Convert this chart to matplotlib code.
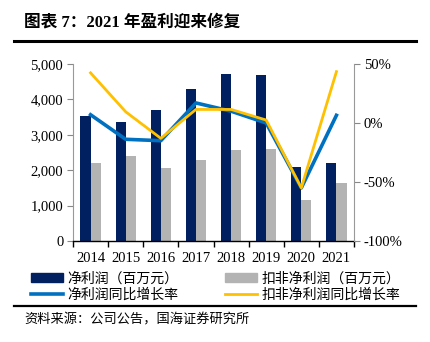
import matplotlib
matplotlib.use("Agg")
import matplotlib.pyplot as plt
from matplotlib.ticker import FuncFormatter, FixedLocator
from matplotlib.lines import Line2D
from matplotlib.patches import Rectangle
import numpy as np

plt.rcParams['font.family'] = ['Liberation Serif', 'Noto Sans CJK SC', 'DejaVu Sans']

years = ['2014', '2015', '2016', '2017', '2018', '2019', '2020', '2021']
net_profit = [3520, 3350, 3700, 4290, 4720, 4700, 2080, 2200]
net_profit_ex = [2190, 2390, 2070, 2300, 2560, 2610, 1160, 1650]
net_growth = [7.0, -13.8, -15.0, 17.0, 10.0, 0.0, -55.0, 6.5]
net_ex_growth = [42.5, 9.5, -13.0, 11.5, 11.5, 2.5, -55.0, 43.5]

labels = ['净利润（百万元）', '扣非净利润（百万元）', '净利润同比增长率', '扣非净利润同比增长率']
title = '图表 7：2021 年盈利迎来修复'
source = '资料来源：公司公告，国海证券研究所'

c_dark = '#002060'
c_gray = '#B3B3B3'
c_blue = '#0070C0'
c_gold = '#FFC000'

W, H = 430, 342
fig = plt.figure(figsize=(W / 100, H / 100), dpi=100)

ax = fig.add_axes([73 / W, 1 - 241 / H, (354 - 73) / W, (241 - 64) / H])
x = np.arange(len(years))
bw = 0.29
ax.bar(x - bw / 2, net_profit, bw, color=c_dark, zorder=2)
ax.bar(x + bw / 2, net_profit_ex, bw, color=c_gray, zorder=2)
ax.set_xlim(-0.5, len(years) - 0.5)
ax.set_ylim(0, 5000)
ax.set_yticks(range(0, 5001, 1000))
ax.yaxis.set_major_formatter(FuncFormatter(lambda v, p: f'{int(v):,}'))
ax.set_xticks(x)
ax.set_xticklabels(years)
ax.xaxis.set_minor_locator(FixedLocator(np.arange(-0.5, len(years), 1.0)))
ax.tick_params(axis='x', which='major', length=0, pad=8, labelsize=10.5)
ax.tick_params(axis='x', which='minor', length=4, width=1, color='black', direction='out')
ax.tick_params(axis='y', length=4, color='#888888', labelsize=10.5, pad=3)
for s in ['top', 'right']:
    ax.spines[s].set_visible(False)
ax.spines['left'].set_color('#999999')
ax.spines['bottom'].set_color('black')
ax.spines['bottom'].set_linewidth(1.0)

ax2 = ax.twinx()
ax2.plot(x, net_growth, color=c_blue, lw=2.6, zorder=3)
ax2.plot(x, net_ex_growth, color=c_gold, lw=2.0, zorder=4)
ax2.set_ylim(-100, 50)
ax2.set_yticks([-100, -50, 0, 50])
ax2.yaxis.set_major_formatter(FuncFormatter(lambda v, p: f'{int(v)}%'))
ax2.tick_params(axis='y', length=4, color='#888888', labelsize=10.5, pad=3)
for s in ['top', 'left', 'bottom']:
    ax2.spines[s].set_visible(False)
ax2.spines['right'].set_color('#999999')

# Title with rule underneath
fig.text(24 / W, 1 - 22 / H, title, fontsize=12, fontweight='bold',
         va='center', ha='left', family=['Liberation Serif', 'Noto Sans CJK SC'])
fig.add_artist(Line2D([14 / W, 416 / W], [1 - 41 / H, 1 - 41 / H],
                      color='black', lw=2.2))

# Legend: two rows (bars, then lines), filled column by column
h_dark = Rectangle((0, 0), 1, 1, color=c_dark)
h_gray = Rectangle((0, 0), 1, 1, color=c_gray)
h_blue = Line2D([], [], color=c_blue, lw=2.6)
h_gold = Line2D([], [], color=c_gold, lw=2.0)
leg = fig.legend([h_dark, h_blue, h_gray, h_gold],
                 [labels[0], labels[2], labels[1], labels[3]],
                 ncol=2, loc='upper left',
                 bbox_to_anchor=(31 / W, 1 - 272 / H), frameon=False,
                 fontsize=10, handlelength=2.3, handleheight=0.6,
                 handletextpad=0.3, columnspacing=3.4, labelspacing=0.2,
                 borderaxespad=0, borderpad=0)

fig.add_artist(Line2D([14 / W, 416 / W], [1 - 306 / H, 1 - 306 / H],
                      color='black', lw=1.6))
fig.text(24 / W, 1 - 320 / H, source, fontsize=9.5, va='center', ha='left')

fig.savefig('out.png', dpi=100)
